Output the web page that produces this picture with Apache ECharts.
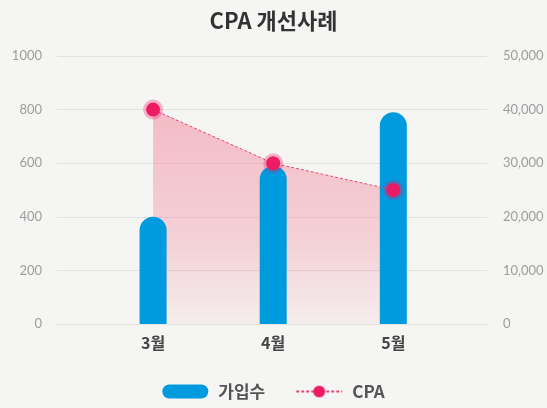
<!DOCTYPE html>
<html>
<head>
<meta charset="utf-8">
<script src="https://cdn.jsdelivr.net/npm/echarts@6/dist/echarts.min.js"></script>
<style>
  html, body { margin: 0; padding: 0; background: #f5f5f3; }
  #chart { width: 547px; height: 408px; }
</style>
</head>
<body>
<div id="chart"></div>
<script>
// 데이터
const months = ["3월", "4월", "5월"];
const joinCounts = [400, 590, 790];
const cpaValues = [40000, 30000, 25000];
const leftTicks = [0, 1000, 200];
const rightTicks = [0, 50000, 10000];

const font = "'Noto Sans CJK KR', 'Noto Sans', sans-serif";
const pink = "#ec1c64";
const blue = "#009ade";

// 카테고리를 1, 2, 3 위치에 놓는다
const barData = joinCounts.map((v, i) => [i + 1, v]);
const lineData = cpaValues.map((v, i) => [i + 1, v]);

const chart = echarts.init(document.getElementById("chart"));

const option = {
  backgroundColor: "#f5f5f3",
  title: {
    text: "CPA 개선사례",
    left: "center",
    top: 5,
    textStyle: { fontFamily: font, fontSize: 22, fontWeight: "bold", color: "#333" }
  },
  legend: {
    bottom: 3,
    left: "center",
    itemWidth: 46,
    itemHeight: 14,
    itemGap: 30,
    textStyle: {
      fontFamily: font,
      fontSize: 17,
      fontWeight: "bold",
      color: "#555",
      padding: [0, 0, 0, 5]
    },
    data: [
      { name: "가입수", icon: "path://M7,0 H39 A7,7 0 0 1 39,14 H7 A7,7 0 0 1 7,0 Z" },
      { name: "CPA" }
    ]
  },
  grid: { left: 57, right: 60, top: 56, bottom: 84 },
  xAxis: {
    type: "value",
    min: 0.2,
    max: 3.78,
    splitLine: { show: false },
    axisLine: { show: true, lineStyle: { color: "#e2e2e0" } },
    axisTick: { show: false },
    axisLabel: {
      customValues: [1, 2, 3],
      formatter: (v) => months[Math.round(v) - 1] || "",
      margin: 11,
      fontFamily: font,
      fontSize: 16,
      fontWeight: "bold",
      color: "#444"
    }
  },
  yAxis: [
    {
      type: "value",
      min: leftTicks[0],
      max: leftTicks[1],
      interval: leftTicks[2],
      axisLine: { show: false },
      axisTick: { show: false },
      splitLine: { lineStyle: { color: "#e2e2e0" } },
      axisLabel: {
        margin: 15,
        fontFamily: "Lato, sans-serif",
        fontSize: 13,
        color: "#9d9d9d",
        formatter: (v) => String(v)
      }
    },
    {
      type: "value",
      min: rightTicks[0],
      max: rightTicks[1],
      interval: rightTicks[2],
      axisLine: { show: false },
      axisTick: { show: false },
      splitLine: { show: false },
      axisLabel: {
        margin: 16,
        fontFamily: "Lato, sans-serif",
        fontSize: 13,
        color: "#9d9d9d",
        formatter: (v) => v.toLocaleString("en-US")
      }
    }
  ],
  series: [
    {
      name: "CPA영역",
      type: "line",
      yAxisIndex: 1,
      data: lineData,
      z: 1,
      silent: true,
      showSymbol: false,
      lineStyle: { width: 0 },
      areaStyle: {
        opacity: 1,
        color: new echarts.graphic.LinearGradient(0, 0, 0, 1, [
          { offset: 0, color: "rgba(242,140,160,0.55)" },
          { offset: 0.6, color: "rgba(242,140,160,0.35)" },
          { offset: 1, color: "rgba(242,140,160,0.08)" }
        ])
      }
    },
    {
      name: "가입수",
      type: "bar",
      data: barData,
      barWidth: 27,
      z: 2,
      itemStyle: { color: blue, borderRadius: [14, 14, 0, 0] }
    },
    {
      name: "CPA",
      type: "line",
      yAxisIndex: 1,
      data: lineData,
      z: 3,
      symbol: "circle",
      symbolSize: 14,
      lineStyle: { color: "#e8457a", width: 1, type: [3, 2] },
      itemStyle: { color: pink, borderColor: "rgba(236,28,100,0.3)", borderWidth: 6 }
    }
  ]
};

chart.setOption(option);
</script>
</body>
</html>
